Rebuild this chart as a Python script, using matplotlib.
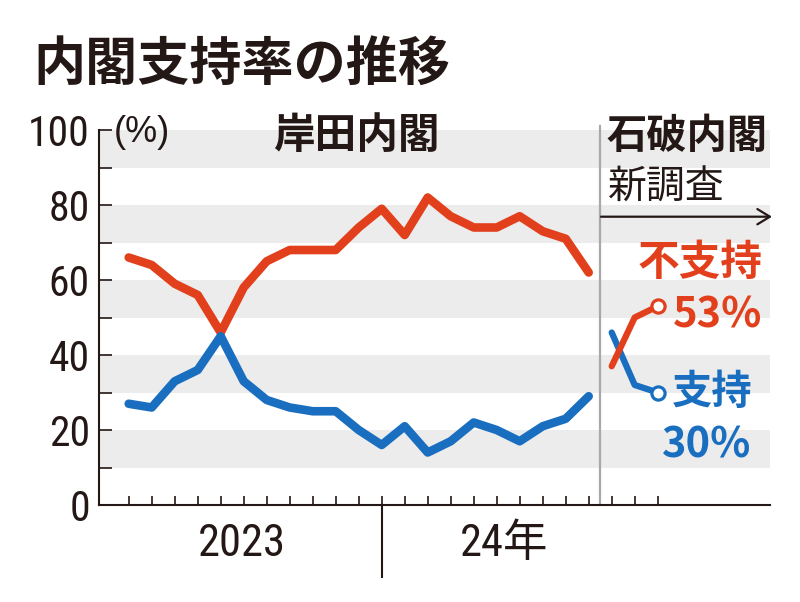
import matplotlib
matplotlib.use("Agg")
import matplotlib.pyplot as plt
from matplotlib import font_manager

# ---------------- data ----------------
kishida_disapprove = [66, 64, 59, 56, 46, 58, 65, 68, 68, 68, 74, 79, 72, 82, 77, 74, 74, 77, 73, 71, 62]
kishida_approve = [27, 26, 33, 36, 45, 33, 28, 26, 25, 25, 20, 16, 21, 14, 17, 22, 20, 17, 21, 23, 29]
ishiba_disapprove = [37, 50, 53]
ishiba_approve = [46, 32, 30]
y_ticks = [0, 20, 40, 60, 80, 100]
year_labels = ["2023", "24年"]
title = "内閣支持率の推移"
cabinet_labels = ["岸田内閣", "石破内閣"]

# ---------------- style ----------------
RED = "#e2401c"
BLUE = "#1a6ec0"
INK = "#231815"
BAND = "#ececec"
CJK = "Noto Sans CJK JP"
plt.rcParams["font.family"] = [CJK, "DejaVu Sans"]

# look for a condensed / narrow sans for the numerals
narrow_entry = None
wanted = ["Liberation Sans Narrow", "Roboto Condensed", "Open Sans Condensed", "DejaVu Sans"]
for name in wanted:
    for f in font_manager.fontManager.ttflist:
        if f.name == name and f.weight in (400, "normal", "regular") and (
                name != "DejaVu Sans" or f.stretch in ("condensed", "semi-condensed")):
            if f.style == "normal":
                narrow_entry = f
                break
    if narrow_entry is not None:
        break

if narrow_entry is not None:
    NUM_SIZE_Y, NUM_SIZE_X = 30, 32
    def num_font(size):
        return font_manager.FontProperties(fname=narrow_entry.fname, size=size)
else:
    NUM_SIZE_Y, NUM_SIZE_X = 28, 30
    def num_font(size):
        return font_manager.FontProperties(family="Liberation Sans", size=size)

W, H = 800, 602
fig = plt.figure(figsize=(W / 100, H / 100), dpi=100)

def fx(px):
    return px / W

def fy(py):
    return 1 - py / H

ax_left, ax_right, ax_top, ax_bottom = 99, 770, 130, 505
ax = fig.add_axes([fx(ax_left), fy(ax_bottom), (ax_right - ax_left) / W, (ax_bottom - ax_top) / H])

x0_px, step_px = 128.7, 23.0
ax.set_xlim((ax_left - x0_px) / step_px, (ax_right - x0_px) / step_px)
ax.set_ylim(0, 100)

# bands
for lo in range(10, 100, 20):
    ax.axhspan(lo, lo + 10, color=BAND, lw=0, zorder=0)

nk = len(kishida_disapprove)
xk = list(range(nk))
xi = list(range(nk, nk + len(ishiba_approve)))

lw_k = 8.6 * 0.72
ax.plot(xk, kishida_disapprove, color=RED, lw=lw_k, solid_capstyle="round", solid_joinstyle="round", zorder=3)
ax.plot(xk, kishida_approve, color=BLUE, lw=lw_k, solid_capstyle="round", solid_joinstyle="round", zorder=3)

lw_i = 6.3 * 0.72
ax.plot(xi, ishiba_approve, color=BLUE, lw=lw_i, solid_capstyle="round", solid_joinstyle="round", zorder=3)
ax.plot(xi, ishiba_disapprove, color=RED, lw=lw_i, solid_capstyle="round", solid_joinstyle="round", zorder=4)
ax.plot([xi[-1]], [ishiba_disapprove[-1]], "o", ms=9.5, mfc="white", mec=RED, mew=2.3, zorder=5)
ax.plot([xi[-1]], [ishiba_approve[-1]], "o", ms=9.5, mfc="white", mec=BLUE, mew=2.3, zorder=5)

# separator between cabinets
ax.axvline(nk - 0.5, ymin=0, ymax=(ax_bottom - 126) / (ax_bottom - ax_top), color="#a8a8a8", lw=1.6, clip_on=False, zorder=2)

# spines
for s in ["top", "right"]:
    ax.spines[s].set_visible(False)
for s in ["left", "bottom"]:
    ax.spines[s].set_color(INK)
    ax.spines[s].set_linewidth(1.5)

# y ticks
ax.set_yticks(y_ticks)
ax.set_yticks([v + 10 for v in y_ticks[:-1]], minor=True)
ax.tick_params(axis="y", which="both", direction="in", length=9.5, width=1.2, color=INK, pad=6.5)
ax.set_yticklabels([str(v) for v in y_ticks], color=INK)
for lab in ax.get_yticklabels():
    lab.set_fontproperties(num_font(NUM_SIZE_Y))

# x ticks (monthly)
ax.set_xticks(list(range(nk + len(ishiba_approve))))
ax.tick_params(axis="x", which="both", direction="in", length=6.5, width=1.2, color=INK, labelbottom=False)

# year divider tick
ax.plot([11, 11], [0, -19.2], color=INK, lw=1.5, clip_on=False)

# year labels
fig.text(fx(241.6), fy(544), year_labels[0], fontproperties=num_font(NUM_SIZE_X), color=INK, ha="center", va="center")
t24 = fig.text(fx(503.7), fy(544), year_labels[1], fontsize=NUM_SIZE_X, color=INK, ha="center", va="center",
               fontfamily=([narrow_entry.name] if narrow_entry is not None else ["Liberation Sans"]) + [CJK])

# (%) unit
fig.text(fx(114), fy(133), "(%)", fontfamily="Liberation Sans", fontsize=26, color=INK, ha="left", va="center")

# title and cabinet labels
fig.text(fx(33), fy(64), title, fontsize=37.5, fontweight="bold", color=INK, ha="left", va="center")
fig.text(fx(356), fy(136), cabinet_labels[0], fontsize=30, fontweight="bold", color=INK, ha="center", va="center")
fig.text(fx(687), fy(136), cabinet_labels[1], fontsize=29, fontweight="bold", color=INK, ha="center", va="center")
fig.text(fx(666), fy(188), "新調査", fontsize=28, color=INK, ha="center", va="center")

# arrow
ax.annotate("", xy=(772, H - 216.7), xytext=(601, H - 216.7), xycoords="figure pixels",
            textcoords="figure pixels",
            arrowprops=dict(arrowstyle="->,head_length=0.9,head_width=0.55", color=INK, lw=1.6, shrinkA=0, shrinkB=0))

# series labels
fig.text(fx(700), fy(263), "不支持", fontsize=30, fontweight="bold", color=RED, ha="center", va="center")
fig.text(fx(718), fy(315), "53%", fontsize=30, fontweight="bold", color=RED, ha="center", va="center")
fig.text(fx(712), fy(392), "支持", fontsize=29, fontweight="bold", color=BLUE, ha="center", va="center")
fig.text(fx(707), fy(445), "30%", fontsize=30, fontweight="bold", color=BLUE, ha="center", va="center")

fig.savefig("out.png", dpi=100)
